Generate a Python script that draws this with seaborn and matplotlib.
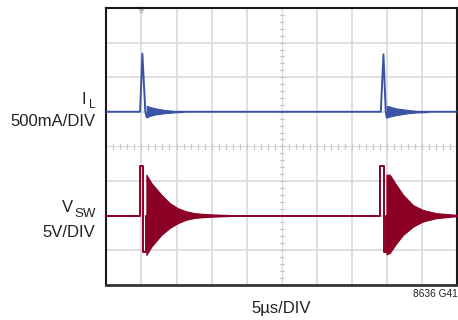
import numpy as np
import matplotlib
matplotlib.use("Agg")
import matplotlib.pyplot as plt
import seaborn as sns
import pandas as pd

# ---------------- data ----------------
# time axis in microseconds (5us/DIV, 10 divisions)
x_ticks_us = [0, 5, 10, 15, 20, 25, 30, 35, 40, 45, 50]

# Inductor current trace (mA)
il_t_us = [0.0, 4.81, 5.14, 5.56, 5.76, 5.95, 39.10, 39.48, 39.81, 39.95, 40.15, 50.0]
il_ma = [0, 0, 840, 0, -80, 0, 0, 830, 0, -85, 0, 0]
# ringing envelopes of the current (mA)
il_ring1_t = [5.76, 6.2, 6.94, 8.36, 9.77, 11.0]
il_ring1_hi = [85, 70, 50, 25, 10, 3]
il_ring1_lo = [-80, -60, -40, -20, -8, -2]
il_ring2_t = [39.95, 40.13, 41.3, 42.76, 44.2, 45.8]
il_ring2_hi = [80, 82, 48, 29, 10, 4]
il_ring2_lo = [-85, -75, -48, -24, -10, -4]

# Switch node voltage trace (V)
sw_t_us = [0.0, 4.77, 4.77, 5.24, 5.24, 5.71, 5.71, 39.0, 39.0, 39.53, 39.53, 39.91, 39.91, 50.0]
sw_v = [0, 0, 7.2, 7.2, -5.3, -5.3, 0, 0, 7.2, 7.2, -5.3, -5.3, 0, 0]
# ringing envelopes of the switch voltage (V)
sw_ring1_t = [5.71, 6.42, 7.84, 9.03, 10.2, 11.4, 12.6, 14.0, 15.4, 17.6, 20.5]
sw_ring1_hi = [5.9, 4.7, 3.0, 1.8, 1.05, 0.6, 0.34, 0.22, 0.15, 0.07, 0.03]
sw_ring1_lo = [-5.7, -4.5, -2.8, -1.8, -1.1, -0.6, -0.34, -0.22, -0.15, -0.07, -0.03]
sw_ring2_t = [39.91, 40.39, 41.33, 42.27, 43.7, 45.1, 47.0, 49.85, 50.0]
sw_ring2_hi = [5.9, 5.9, 4.4, 3.0, 1.5, 0.8, 0.34, 0.1, 0.1]
sw_ring2_lo = [-5.6, -5.4, -4.0, -2.8, -1.6, -0.86, -0.38, -0.1, -0.1]

# scales / screen placement (divisions)
IL_SCALE = 500.0   # mA per div
SW_SCALE = 5.0     # V per div
IL_OFFSET = 5.0    # baseline division of IL trace
SW_OFFSET = 2.0    # baseline division of VSW trace

BLUE = "#3a54a5"
RED = "#8c0026"
GRID = "#d9d9d9"

sns.set_style("white")
plt.rcParams["font.family"] = ["Liberation Sans", "DejaVu Sans"]

W, H = 458, 320
fig = plt.figure(figsize=(W / 100, H / 100), dpi=100)
ax = fig.add_axes([106.3 / W, 35.3 / H, 351 / W, 276.7 / H])
ax.set_xlim(0, 50)
ax.set_ylim(0, 8)

# grid
for xv in x_ticks_us[1:-1]:
    if xv == 25:
        continue
    ax.axvline(xv, color=GRID, lw=1.2, zorder=0)
for yv in range(1, 8):
    if yv == 4:
        continue
    ax.axhline(yv, color=GRID, lw=1.2, zorder=0)
# centre lines with minor ticks
ax.axvline(25, color=GRID, lw=0.8, zorder=0)
ax.axhline(4, color=GRID, lw=0.8, zorder=0)
for k in np.arange(0, 50.01, 1.0):
    ax.plot([k, k], [3.93, 4.07], color="#c8c8c8", lw=0.9, zorder=0)
for k in np.arange(0, 8.01, 0.2):
    ax.plot([24.75, 25.25], [k, k], color="#c8c8c8", lw=0.9, zorder=0)

# traces
il_df = pd.DataFrame({"t": il_t_us, "y": np.array(il_ma) / IL_SCALE + IL_OFFSET})
sw_df = pd.DataFrame({"t": sw_t_us, "y": np.array(sw_v) / SW_SCALE + SW_OFFSET})
sns.lineplot(data=il_df, x="t", y="y", ax=ax, color=BLUE, lw=1.4,
             sort=False, estimator=None, zorder=3)
sns.lineplot(data=sw_df, x="t", y="y", ax=ax, color=RED, lw=1.4,
             sort=False, estimator=None, zorder=3)

for tt, hi, lo in [(il_ring1_t, il_ring1_hi, il_ring1_lo), (il_ring2_t, il_ring2_hi, il_ring2_lo)]:
    ax.fill_between(tt, np.array(lo) / IL_SCALE + IL_OFFSET, np.array(hi) / IL_SCALE + IL_OFFSET,
                    color=BLUE, lw=0.8, zorder=3)
for tt, hi, lo in [(sw_ring1_t, sw_ring1_hi, sw_ring1_lo), (sw_ring2_t, sw_ring2_hi, sw_ring2_lo)]:
    ax.fill_between(tt, np.array(lo) / SW_SCALE + SW_OFFSET, np.array(hi) / SW_SCALE + SW_OFFSET,
                    color=RED, lw=0.8, zorder=3)

# trigger marker
ax.plot([5], [7.93], marker="v", color="#c0c0c0", markersize=5, clip_on=False, zorder=2)

ax.set_xticks([])
ax.set_yticks([])
ax.set_xlabel("")
ax.set_ylabel("")
for side in ["left", "top", "right", "bottom"]:
    ax.spines[side].set_visible(True)
    ax.spines[side].set_color("#1a1a1a")
    ax.spines[side].set_linewidth(1.5)
ax.spines["bottom"].set_linewidth(2.0)
ax.spines["bottom"].set_color("#333333")


def ftext(x, y, s, size, ha="right", **kw):
    fig.text(x / W, 1 - y / H, s, fontsize=size, ha=ha, va="baseline", color="#222222", **kw)


ftext(86.0, 104, "I", 12)
ftext(95.5, 107.5, "L", 8.5)
ftext(95.5, 125.5, "500mA/DIV", 12)
ftext(73.0, 211.7, "V", 12)
ftext(95.5, 217.3, "SW", 9.5)
ftext(95.5, 236.7, "5V/DIV", 12)
ftext(281, 313, "5\u00b5s/DIV", 12, ha="center")
ftext(457.5, 297.3, "8636 G41", 7.3)

fig.savefig("out.png", dpi=100)
